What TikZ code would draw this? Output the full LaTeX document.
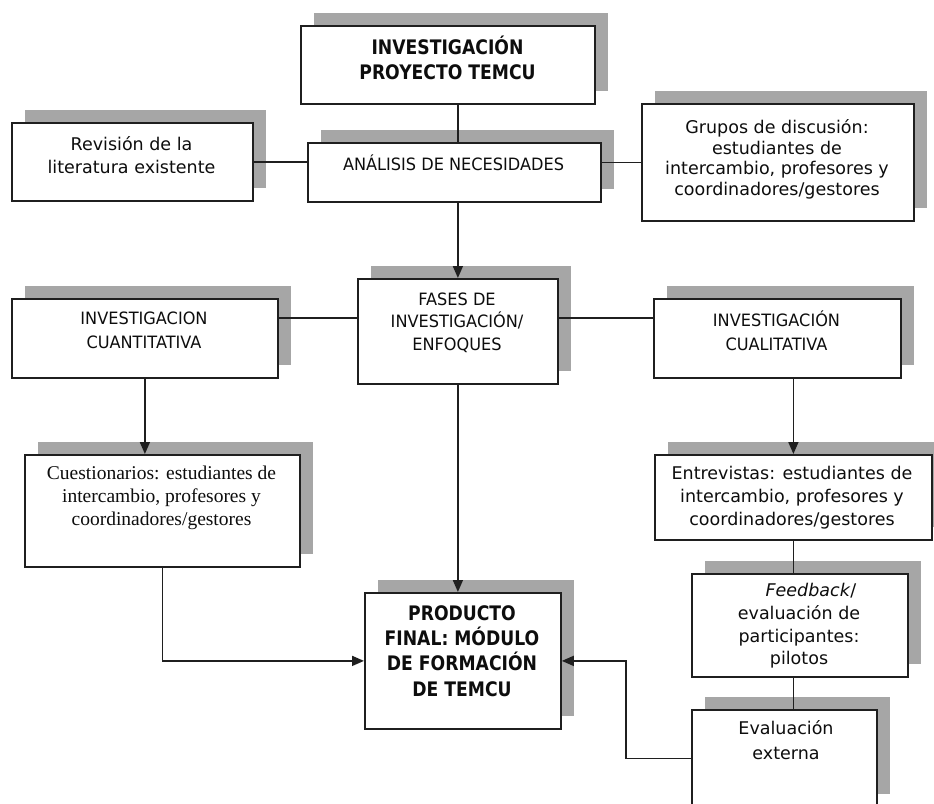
\documentclass[tikz,border=0pt]{standalone}
\usepackage{fontspec}
\setmainfont{DejaVu Sans}
\newfontfamily\mayus{DejaVu Sans}[FakeStretch=0.95]
\newfontfamily\negrita{DejaVu Sans}[FakeStretch=0.86]
\newfontfamily\romana{Liberation Serif}
\usetikzlibrary{arrows.meta,shadows}
\definecolor{sombra}{gray}{0.65}
\definecolor{trazo}{gray}{0.12}

\begin{document}
\begin{tikzpicture}[x=1pt,y=-1pt,
    caja/.style={draw=trazo, line width=1.8pt, fill=white, rectangle, inner sep=0pt, anchor=north west,
        general shadow={fill=sombra, shadow xshift=13pt, shadow yshift=13pt}},
    texto/.style={align=center, inner sep=0pt, text=black!95, font=\fontsize{17.5}{23}\selectfont},
    mayusc/.style={texto, font=\mayus\fontsize{17}{24.5}\selectfont},
    gruesa/.style={texto, font=\negrita\bfseries\fontsize{20}{24.5}\selectfont},
    linea/.style={draw=trazo, line width=1.6pt},
    flecha/.style={linea, -{Triangle[length=12pt,width=10pt]}}]
    \useasboundingbox (0,0) rectangle (934,803);
    \fill[white] (0,0) rectangle (934,803);
    \clip (0,0) rectangle (934,803);
    % cajas
    \node[caja, minimum width=294, minimum height=78] (inv) at (300,25) {};
    \node[caja, minimum width=293, minimum height=59] (anal) at (307,142) {};
    \node[caja, minimum width=241, minimum height=78] (rev) at (11,122) {};
    \node[caja, minimum width=272, minimum height=117] (grup) at (641,103) {};
    \node[caja, minimum width=266, minimum height=79] (cuant) at (11,298) {};
    \node[caja, minimum width=200, minimum height=105] (fases) at (357,278) {};
    \node[caja, minimum width=247, minimum height=79] (cual) at (653,298) {};
    \node[caja, minimum width=275, minimum height=112] (cuest) at (24,454) {};
    \node[caja, minimum width=196, minimum height=136] (prod) at (364,592) {};
    \node[caja, minimum width=277, minimum height=85] (entr) at (654,454) {};
    \node[caja, minimum width=216, minimum height=103] (feed) at (691,573) {};
    \node[caja, minimum width=185, minimum height=97] (evalx) at (691,709) {};
    % textos
    \node[gruesa] (inv-t) at (447.5,58) {INVESTIGACIÓN\\PROYECTO TEMCU};
    \node[mayusc] (anal-t) at (453.5,163) {ANÁLISIS DE NECESIDADES};
    \node[texto] (rev-t) at (131.5,155) {Revisión de la\\literatura existente};
    \node[texto, font=\fontsize{17.5}{20.5}\selectfont] (grup-t) at (777,159.5)
        {Grupos de discusión:\\estudiantes de\\intercambio, profesores y\\coordinadores/gestores};
    \node[mayusc] (cuant-t) at (144,330.5) {INVESTIGACION\\CUANTITATIVA};
    \node[mayusc, font=\mayus\fontsize{17}{22.5}\selectfont] (fases-t) at (457,322.5)
        {FASES DE\\INVESTIGACIÓN/\\ENFOQUES};
    \node[mayusc] (cual-t) at (776.5,330.5) {INVESTIGACIÓN\\CUALITATIVA};
    \node[texto, font=\romana\fontsize{19.5}{23}\selectfont] (cuest-t) at (161.5,498)
        {Cuestionarios: estudiantes de\\intercambio, profesores y\\coordinadores/gestores};
    \node[texto] (entr-t) at (792,497.5)
        {Entrevistas: estudiantes de\\intercambio, profesores y\\coordinadores/gestores};
    \node[gruesa, font=\negrita\bfseries\fontsize{20}{25.3}\selectfont] (prod-t) at (462,651)
        {PRODUCTO\\FINAL: MÓDULO\\DE FORMACIÓN\\DE TEMCU};
    \node[texto, font=\fontsize{17.5}{22.7}\selectfont] (feed-t) at (799,626)
        {\hspace*{24pt}\textit{Feedback}/\\evaluación de\\participantes:\\pilotos};
    \node[texto, font=\fontsize{17.5}{25}\selectfont] (evalx-t) at (786,740.5) {Evaluación\\externa};
    % conectores
    \coordinate (nivel) at (0,318);
    \draw[linea] (inv.south -| fases.north) -- (anal.north -| fases.north);
    \draw[linea] (rev.east) -- (rev.east -| anal.west);
    \draw[linea] (grup.west) -- (grup.west -| anal.east);
    \draw[flecha] (anal.south -| fases.north) -- (fases.north);
    \draw[linea] (cuant.east |- nivel) -- (fases.west |- nivel);
    \draw[linea] (fases.east |- nivel) -- (cual.west |- nivel);
    \draw[flecha] (cuant.south) -- (cuant.south |- cuest.north);
    \draw[flecha] (entr.north |- cual.south) -- (entr.north);
    \draw[flecha] (fases.south) -- (fases.south |- prod.north);
    \draw[linea] (entr.south) -- (entr.south |- feed.north);
    \draw[linea] (feed.south -| entr.south) -- (evalx.north -| entr.south);
    \draw[flecha] (cuest.south) |- (prod.west);
    \draw[flecha] (evalx.west) -- ++(-65,0) |- (prod.east);
\end{tikzpicture}
\end{document}
